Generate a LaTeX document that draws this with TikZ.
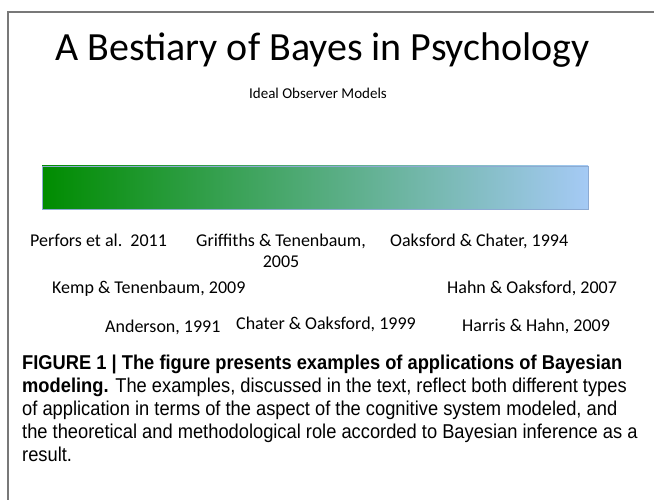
\documentclass[tikz,border=0pt]{standalone}
\usepackage{fontspec}
\setmainfont{Carlito}
\newfontfamily\capfont[FakeStretch=0.915]{Liberation Sans}
\definecolor{framegray}{RGB}{120,120,120}
\definecolor{barleft}{RGB}{0,140,0}
\definecolor{barright}{RGB}{165,202,245}
\definecolor{barline}{RGB}{140,170,210}
\tikzset{ref/.style={anchor=base west, inner sep=0pt, font=\fontsize{18}{21}\selectfont}}

\begin{document}
\begin{tikzpicture}[x=1pt,y=-1pt]
         \useasboundingbox (0,0) rectangle (654,500);
         \draw [framegray, line width=1.5pt] (8,500) -- (8,12) -- (655,12);
         \node (TT) [anchor=base west, inner sep=0pt] at (55,61) {\fontsize{40}{44}\selectfont A Bestiary of Bayes in Psychology};
         \node (IOM) [anchor=base, inner sep=0pt] at (318,99) {\fontsize{15}{18}\selectfont Ideal Observer Models};
         \shade [left color=barleft, right color=barright] (42,166) rectangle (588,209);
         \draw [barline, line width=0.8pt] (42,166) rectangle (588,209);
         % row one
         \node (PE) [ref] at (30,247) {Perfors et al.\ \ 2011};
         \node (GT) [anchor=north, align=center, inner sep=0pt, font=\fontsize{18}{21}\selectfont] at (281,234) {Griffiths \& Tenenbaum,\\2005};
         \node (OC) [ref] at (390,247) {Oaksford \& Chater, 1994};
         % row two
         \node (KT) [ref] at (52,293) {Kemp \& Tenenbaum, 2009};
         \node (HO) [ref] at (447,293) {Hahn \& Oaksford, 2007};
         % row three
         \node (AN) [ref] at (105,332) {Anderson, 1991};
         \node (CO) [ref] at (236,329) {Chater \& Oaksford, 1999};
         \node (HH) [ref] at (462,331) {Harris \& Hahn, 2009};
         % caption
         \node (CAP) [anchor=north west, align=left, inner sep=0pt, font=\capfont\fontsize{20}{23}\selectfont] at (22,355)
           {\textbf{FIGURE 1 | The figure presents examples of applications of Bayesian}\\
            \textbf{modeling.} The examples, discussed in the text, reflect both different types\\
            of application in terms of the aspect of the cognitive system modeled, and\\
            the theoretical and methodological role accorded to Bayesian inference as a\\
            result.};
\end{tikzpicture}
\end{document}
